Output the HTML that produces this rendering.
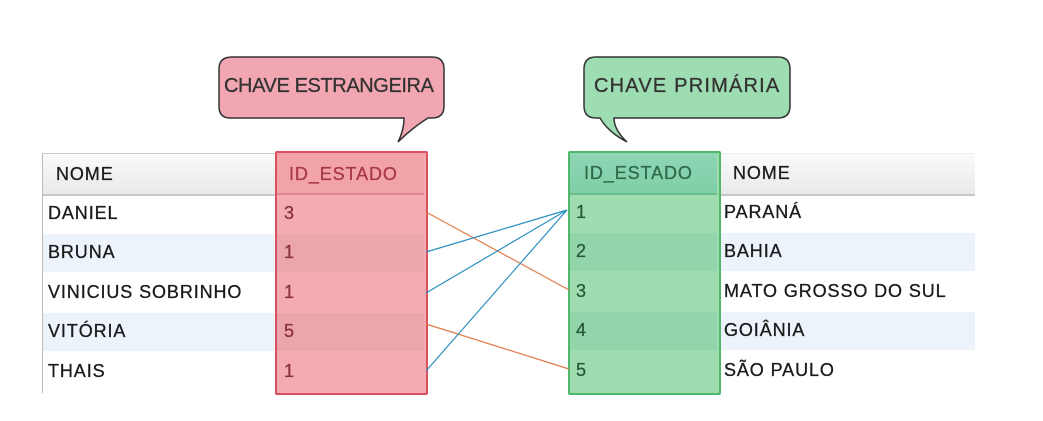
<!DOCTYPE html>
<html><head><meta charset="utf-8"><style>
body{margin:0;width:1043px;height:421px;background:#fff;position:relative;overflow:hidden;font-family:"Liberation Sans",Tahoma,sans-serif;}
.a{position:absolute;}
.t{position:absolute;font-size:18px;color:#1a1a1a;line-height:20px;letter-spacing:0.9px;-webkit-text-stroke:0.3px currentColor;}
</style></head><body>
<div class="a" style="left:42px;top:153px;width:236px;height:40px;background:linear-gradient(#fafafa,#e9e9e9);border-top:1px solid #ccc;border-bottom:2px solid #c8c8c8;"></div>
<div class="a" style="left:42px;top:153px;width:1px;height:240px;background:#bbb"></div>
<div class="a" style="left:43px;top:234px;width:234px;height:38px;background:#edf3fb"></div>
<div class="a" style="left:43px;top:313px;width:234px;height:38px;background:#edf3fb"></div>
<div class="a" style="left:719px;top:153px;width:256px;height:40px;background:linear-gradient(#fafafa,#e9e9e9);border-top:1px solid #eee;border-bottom:2px solid #c8c8c8;"></div>
<div class="a" style="left:719px;top:233px;width:256px;height:38px;background:#edf3fb"></div>
<div class="a" style="left:719px;top:312px;width:256px;height:38px;background:#edf3fb"></div>
<div class="a" style="left:275px;top:151px;width:149px;height:240px;background:#f4abb1;border:2px solid #d9505e;border-radius:2px;"></div>
<div class="a" style="left:277px;top:153px;width:147px;height:40px;background:#f1a3a8;border-bottom:2px solid #d88a90"></div>
<div class="a" style="left:277px;top:234px;width:147px;height:38px;background:#eba6ac"></div>
<div class="a" style="left:277px;top:313px;width:147px;height:38px;background:#eba6ac"></div>
<div class="a" style="left:568px;top:151px;width:149px;height:240px;background:#9fdcb0;border:2px solid #4fb86a;border-radius:2px;"></div>
<div class="a" style="left:570px;top:153px;width:147px;height:40px;background:linear-gradient(#8fd6b4,#7fcfa8);border-bottom:2px solid #6cbf8c"></div>
<div class="a" style="left:570px;top:233px;width:147px;height:38px;background:#92d5aa"></div>
<div class="a" style="left:570px;top:312px;width:147px;height:38px;background:#92d5aa"></div>

<svg class="a" style="left:0;top:0" width="1043" height="421">
<path d="M232,57 H432 Q444,57 444,69 V106 Q444,118 432,118 H428 Q412,128 398,142 Q404,130 404,118 H230 Q219,118 219,106 V69 Q219,57 232,57Z" fill="#f1a6b1" stroke="#333" stroke-width="1.5"/>
<path d="M596,57 H778 Q790,57 790,69 V106 Q790,118 778,118 H614 Q614,130 627,142 Q608,132 600,118 H596 Q584,118 584,106 V69 Q584,57 596,57Z" fill="#9edcb1" stroke="#333" stroke-width="1.5"/>
<g stroke="#e07a4a" stroke-width="1.2"><line x1="426" y1="212" x2="569" y2="290"/><line x1="426" y1="324" x2="569" y2="369"/></g>
<g stroke="#2a8ec0" stroke-width="1.2"><line x1="426" y1="252" x2="567" y2="210"/><line x1="426" y1="293" x2="567" y2="210"/><line x1="426" y1="371" x2="567" y2="210"/></g>
</svg>

<div class="t" style="left:224px;top:76px;font-size:20px;letter-spacing:-0.4px;color:#333">CHAVE ESTRANGEIRA</div>
<div class="t" style="left:594px;top:76px;font-size:20px;letter-spacing:1.2px;color:#333">CHAVE PRIMÁRIA</div>

<div class="t" style="left:56px;top:164px">NOME</div>
<div class="t" style="left:289px;top:164px;color:#a83848">ID_ESTADO</div>
<div class="t" style="left:584px;top:163px;color:#2f6a4a">ID_ESTADO</div>
<div class="t" style="left:733px;top:163px">NOME</div>

<div class="t" style="left:48px;top:203px">DANIEL</div>
<div class="t" style="left:48px;top:242px">BRUNA</div>
<div class="t" style="left:48px;top:282px">VINICIUS SOBRINHO</div>
<div class="t" style="left:48px;top:321px">VITÓRIA</div>
<div class="t" style="left:48px;top:361px">THAIS</div>

<div class="t" style="left:284px;top:203px;color:#8a3040">3</div>
<div class="t" style="left:284px;top:242px;color:#8a3040">1</div>
<div class="t" style="left:284px;top:282px;color:#8a3040">1</div>
<div class="t" style="left:284px;top:321px;color:#8a3040">5</div>
<div class="t" style="left:284px;top:361px;color:#8a3040">1</div>

<div class="t" style="left:576px;top:202px;color:#285a3a">1</div>
<div class="t" style="left:576px;top:241px;color:#285a3a">2</div>
<div class="t" style="left:576px;top:281px;color:#285a3a">3</div>
<div class="t" style="left:576px;top:320px;color:#285a3a">4</div>
<div class="t" style="left:576px;top:360px;color:#285a3a">5</div>

<div class="t" style="left:724px;top:202px">PARANÁ</div>
<div class="t" style="left:724px;top:241px">BAHIA</div>
<div class="t" style="left:724px;top:281px">MATO GROSSO DO SUL</div>
<div class="t" style="left:724px;top:320px">GOIÂNIA</div>
<div class="t" style="left:724px;top:360px">SÃO PAULO</div>
</body></html>
